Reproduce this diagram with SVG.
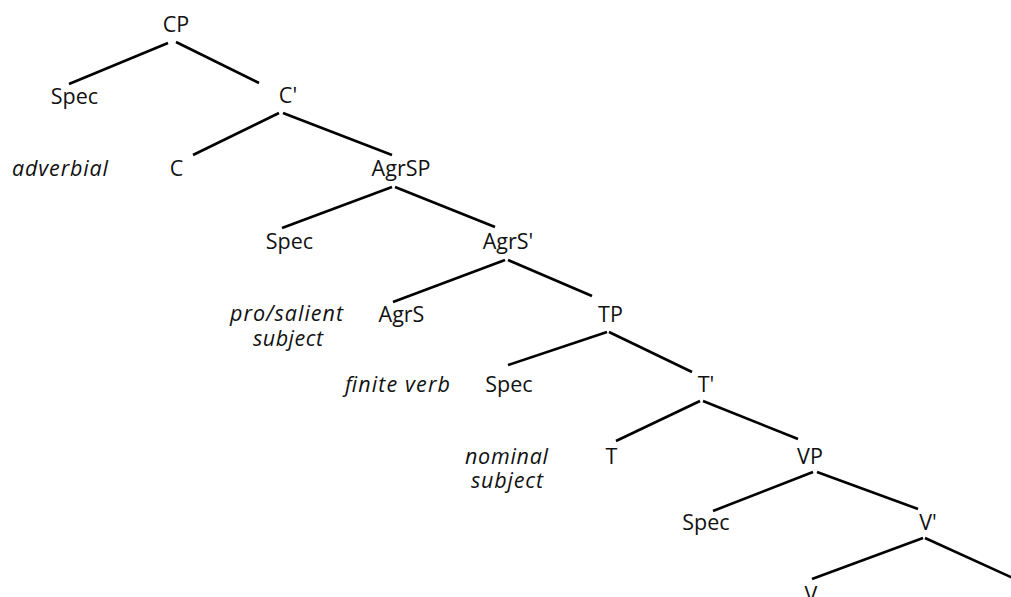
<svg xmlns="http://www.w3.org/2000/svg" width="1011" height="597" viewBox="0 0 1011 597">
<style>
.n{font-family:"Open Sans","Liberation Sans",sans-serif;font-size:21.5px;fill:#111;text-anchor:middle}
.a{font-family:"Open Sans","Liberation Sans",sans-serif;font-size:21.5px;fill:#111;font-style:italic}
.e line{stroke:#000;stroke-width:2.6;stroke-linecap:butt}
</style>
<rect width="1011" height="597" fill="#fff"/>
<g id="connectors" class="e">
<line x1="168" y1="43" x2="69" y2="84"/>
<line x1="176" y1="42" x2="259" y2="83"/>
<line x1="279" y1="113" x2="193" y2="155"/>
<line x1="283" y1="113" x2="392" y2="155"/>
<line x1="392" y1="187" x2="282" y2="228"/>
<line x1="395" y1="187" x2="495" y2="227"/>
<line x1="505" y1="260" x2="393" y2="302"/>
<line x1="508" y1="260" x2="592" y2="296"/>
<line x1="607" y1="332" x2="508" y2="365"/>
<line x1="609" y1="332" x2="692" y2="372"/>
<line x1="700" y1="401" x2="616" y2="441"/>
<line x1="703" y1="401" x2="798" y2="439"/>
<line x1="813" y1="472" x2="713" y2="511"/>
<line x1="817" y1="472" x2="918" y2="509"/>
<line x1="923" y1="538" x2="812" y2="579"/>
<line x1="925" y1="538" x2="1013" y2="578"/>
</g>
<g id="CP"><text class="n" x="176" y="32">CP</text></g>
<g id="Spec1"><text class="n" x="74.5" y="104">Spec</text></g>
<g id="Cbar"><text class="n" x="288" y="103">C'</text></g>
<g id="adverbial"><text class="a" x="12" y="176" textLength="96">adverbial</text></g>
<g id="C"><text class="n" x="176.5" y="176">C</text></g>
<g id="AgrSP"><text class="n" x="401" y="176">AgrSP</text></g>
<g id="Spec2"><text class="n" x="289.5" y="249">Spec</text></g>
<g id="AgrSbar"><text class="n" x="508" y="249">AgrS'</text></g>
<g id="prosalient"><text class="a" x="230" y="321" textLength="113">pro/salient</text><text class="a" x="253" y="346" textLength="70">subject</text></g>
<g id="AgrS"><text class="n" x="401.5" y="322">AgrS</text></g>
<g id="TP"><text class="n" x="610.5" y="322">TP</text></g>
<g id="finiteverb"><text class="a" x="345" y="392" textLength="105">finite verb</text></g>
<g id="Spec3"><text class="n" x="509" y="392">Spec</text></g>
<g id="Tbar"><text class="n" x="706" y="392">T'</text></g>
<g id="nominal"><text class="a" x="465" y="464" textLength="83">nominal</text><text class="a" x="471" y="488" textLength="72">subject</text></g>
<g id="T"><text class="n" x="611.5" y="464">T</text></g>
<g id="VP"><text class="n" x="810" y="464">VP</text></g>
<g id="Spec4"><text class="n" x="706" y="530">Spec</text></g>
<g id="Vbar"><text class="n" x="928" y="530">V'</text></g>
<g id="V"><text class="n" x="811" y="602">V</text></g>
</svg>
